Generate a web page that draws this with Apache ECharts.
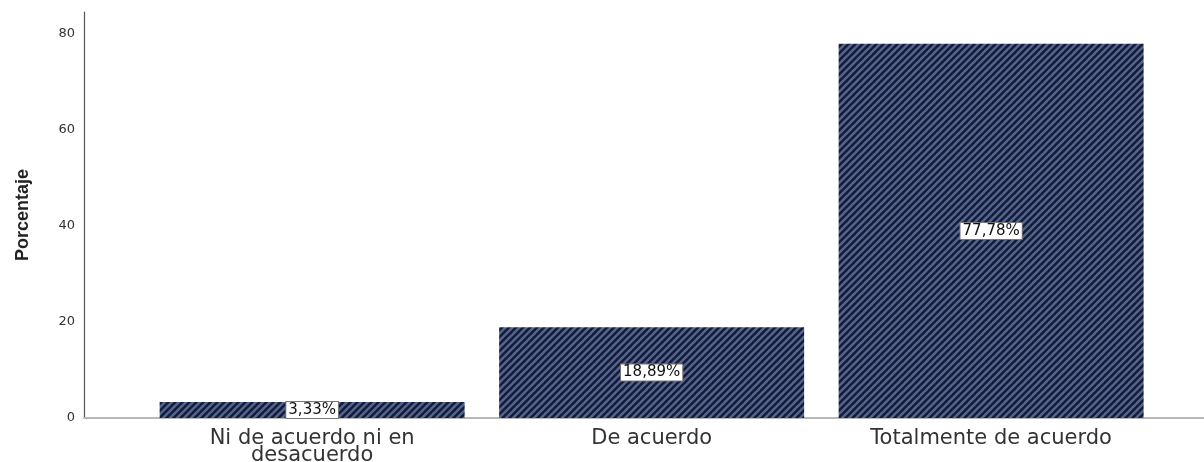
<!DOCTYPE html>
<html><head><meta charset="utf-8">
<script src="https://cdn.jsdelivr.net/npm/echarts@6/dist/echarts.min.js"></script>
<style>html,body{margin:0;padding:0;background:#fff}#c{width:1204px;height:462px}</style>
</head><body><div id="c"></div>
<script>
const categories = ['Ni de acuerdo ni en\ndesacuerdo', 'De acuerdo', 'Totalmente de acuerdo'];
const values = [3.33, 18.89, 77.78];
const yTicks = [0, 20, 40, 60, 80];

function stripeTile() {
  const n = 7;
  const cv = document.createElement('canvas');
  cv.width = n; cv.height = n;
  const g = cv.getContext('2d');
  g.fillStyle = '#121a36';
  g.fillRect(0, 0, n, n);
  g.strokeStyle = '#55648f';
  g.lineWidth = 2.6;
  for (const o of [-n, 0, n]) {
    g.beginPath();
    g.moveTo(o - 1, n + 1);
    g.lineTo(o + n + 1, -1);
    g.stroke();
  }
  return cv;
}
const tile = stripeTile();
const wide = 'DejaVu Sans, Verdana, sans-serif';

const chart = echarts.init(document.getElementById('c'));
chart.setOption({
  animation: false,
  grid: { left: 84, right: 0, top: 12, bottom: 44, containLabel: false, outerBoundsMode: 'none' },
  xAxis: {
    type: 'value', min: -0.672, max: 2.627,
    splitLine: { show: false },
    axisTick: { show: false },
    axisLine: { show: true, lineStyle: { color: '#b8b8b8', width: 2 } },
    axisLabel: {
      customValues: categories.map((c, i) => i),
      formatter: v => categories[Math.round(v)] || '',
      color: '#333', fontSize: 21, fontFamily: wide,
      lineHeight: 17, margin: 12
    }
  },
  yAxis: {
    type: 'value', min: 0, max: 84.4, interval: 20,
    name: 'Porcentaje', nameLocation: 'middle', nameGap: 52,
    nameTextStyle: { fontSize: 18, fontWeight: 'bold', color: '#222', fontFamily: 'Liberation Sans, Arial, sans-serif' },
    splitLine: { show: false },
    axisTick: { show: false },
    axisLine: { show: true, onZero: false, lineStyle: { color: '#555', width: 1.2 } },
    axisLabel: {
      customValues: yTicks,
      formatter: v => String(v),
      color: '#333', fontSize: 13, margin: 9, fontFamily: wide
    }
  },
  series: [{
    type: 'bar',
    barWidth: 305,
    data: values.map((v, i) => [i, v]),
    itemStyle: { color: { image: tile, repeat: 'repeat' } },
    label: {
      show: true, position: 'inside',
      formatter: p => p.value[1].toFixed(2).replace('.', ',') + '%',
      color: '#111', fontSize: 15, fontFamily: wide,
      backgroundColor: '#fff', borderColor: '#777', borderWidth: 1, padding: [1, 2, 0, 2]
    }
  }]
});
</script></body></html>
